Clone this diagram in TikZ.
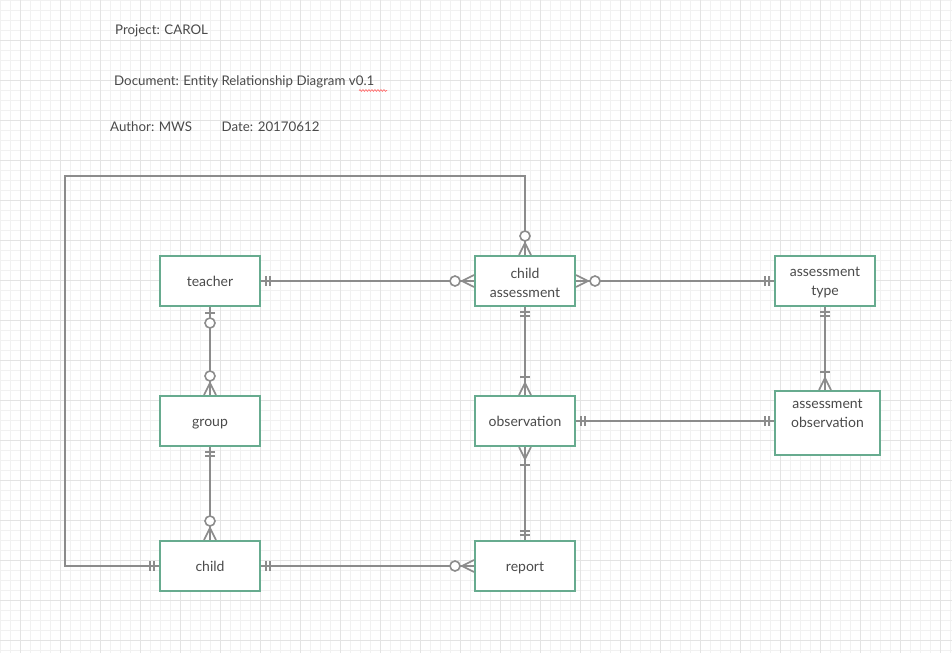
\documentclass[tikz,border=0pt]{standalone}
\usepackage{fontspec}
\setmainfont{Lato}
\usetikzlibrary{decorations.markings,decorations.pathmorphing}
\definecolor{boxgreen}{HTML}{67AB8F}
\definecolor{lgray}{HTML}{8C8C8C}
\definecolor{txt}{HTML}{4A4A4A}
\definecolor{gridminor}{HTML}{F1F1F1}
\definecolor{gridmajor}{HTML}{E3E3E3}
\newcommand{\erbar}{\draw[lgray,line width=1.6pt] (0,-5pt)--(0,5pt);}
\newcommand{\ercirc}{\draw[lgray,line width=1.6pt,fill=white] (0,0) circle (5pt);}
\newcommand{\ercrowS}{\draw[lgray,line width=1.6pt] (-12pt,6pt)--(0,0)--(-12pt,-6pt);}
\newcommand{\ercrowE}{\draw[lgray,line width=1.6pt] (12pt,6pt)--(0,0)--(12pt,-6pt);}
\newcommand{\tl}{\rule{0pt}{13.3pt}}
\tikzset{
  ent/.style={draw=boxgreen, line width=2pt, fill=white, minimum width=100pt,
    minimum height=50pt, inner sep=0pt, text=txt, align=center,
    font=\fontsize{14}{19}\selectfont},
  single/.style={text height=10.1pt, text depth=0pt},
  hdr/.style={anchor=base west, inner sep=0pt, text=txt, font=\fontsize{13.3}{16}\selectfont},
  rel/.style={draw=lgray, line width=2pt},
  mandone s/.style={postaction={decorate,decoration={markings,
     mark=at position 5pt with {\erbar}, mark=at position 9pt with {\erbar}}}},
  mandone e/.style={postaction={decorate,decoration={markings,
     mark=at position -9pt with {\erbar}, mark=at position -5pt with {\erbar}}}},
  zeroone s/.style={postaction={decorate,decoration={markings,
     mark=at position 6pt with {\erbar}, mark=at position 16pt with {\ercirc}}}},
  zeromany s/.style={postaction={decorate,decoration={markings,
     mark=at position 12pt with {\ercrowS}, mark=at position 19pt with {\ercirc}}}},
  zeromany e/.style={postaction={decorate,decoration={markings,
     mark=at position -19pt with {\ercirc}, mark=at position -12pt with {\ercrowE}}}},
  onemany s/.style={postaction={decorate,decoration={markings,
     mark=at position 12pt with {\ercrowS}, mark=at position 18pt with {\erbar}}}},
  onemany e/.style={postaction={decorate,decoration={markings,
     mark=at position -18pt with {\erbar}, mark=at position -12pt with {\ercrowE}}}},
}
\begin{document}
\begin{tikzpicture}[x=1pt,y=-1pt]
\useasboundingbox (0,0) rectangle (952,653);
\fill[white] (0,0) rectangle (952,653);
% grid
\foreach \gx in {0,10,...,950} \draw[gridminor,line width=0.8pt] (\gx,0) -- (\gx,653);
\foreach \gy in {0,10,...,650} \draw[gridminor,line width=0.8pt] (0,\gy) -- (952,\gy);
\foreach \gx in {20,60,...,940} \draw[gridmajor,line width=0.8pt] (\gx,0) -- (\gx,653);
\foreach \gy in {40,80,...,640} \draw[gridmajor,line width=0.8pt] (0,\gy) -- (952,\gy);

% header texts
\node[hdr] (proj) at (115,34) {Project: CAROL};
\node[hdr] (doc) at (114,85.7) {Document: Entity Relationship Diagram v0.1};
\node[hdr] (auth) at (110,131.7) {Author: MWS};
\node[hdr] (date) at (221.5,131.7) {Date: 20170612};
\draw[red!55, line width=0.7pt, decorate, decoration={snake, amplitude=0.9pt, segment length=3pt}] (359,90.5) -- (387,90.5);

% entities
\node[ent, single] (teacher) at (210,281) {teacher};
\node[ent] (ca) at (525,281) {\tl child\\assessment};
\node[ent] (at) at (825,281) {\tl assessment\\type};
\node[ent, single] (group) at (210,421) {group};
\node[ent, single] (obs) at (525,421) {observation};
\node[ent, minimum width=105pt, minimum height=64pt] (ao) at (827.5,423) {};
\node[text=txt, align=center, font=\fontsize{14}{19}\selectfont, inner sep=0pt] (aot) at (827.5,411.5) {\tl assessment\\observation};
\node[ent, single] (child) at (210,566) {child};
\node[ent, single] (report) at (525,566) {report};

\coordinate (loopc) at (65,176);

% relationships
\draw[rel, mandone s, zeromany e] (child.west) -| (loopc) -| (ca.north);
\draw[rel, mandone s, zeromany e] (teacher.east) -- (ca.west);
\draw[rel, zeromany s, mandone e] (ca.east) -- (at.west);
\draw[rel, zeroone s, zeromany e] (teacher.south) -- (group.north);
\draw[rel, mandone s, zeromany e] (group.south) -- (child.north);
\draw[rel, mandone s, zeromany e] (child.east) -- (report.west);
\draw[rel, mandone s, onemany e] (ca.south) -- (obs.north);
\draw[rel, onemany s, mandone e] (obs.south) -- (report.north);
\draw[rel, mandone s, mandone e] (obs.east) -- (obs.east -| ao.west);
\draw[rel, mandone s, onemany e] (at.south) -- (at.south |- ao.north);
\end{tikzpicture}
\end{document}
